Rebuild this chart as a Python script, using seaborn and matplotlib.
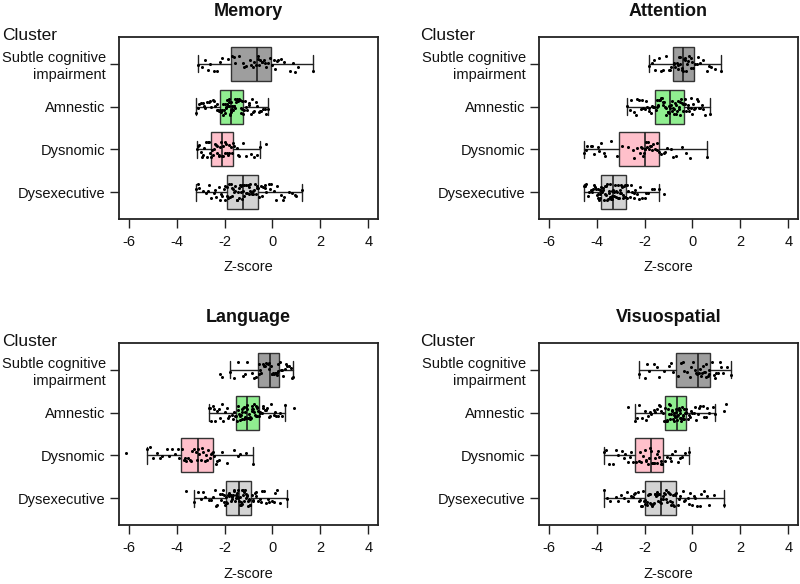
import matplotlib
matplotlib.use("Agg")
import matplotlib.pyplot as plt
import numpy as np
import pandas as pd
import seaborn as sns

# Clusters (top to bottom) and box colours
clusters = ["Subtle cognitive\nimpairment", "Amnestic", "Dysnomic", "Dysexecutive"]
box_colors = ["#9e9e9e", "#90ee90", "#ffc0cb", "#d3d3d3"]
domains = ["Memory", "Attention", "Language", "Visuospatial"]

# Box summaries: [whisker low, Q1, median, Q3, whisker high]
memory_box = [[-3.09, -1.73, -0.65, -0.06, 1.68],
              [-3.19, -2.19, -1.72, -1.23, -0.17],
              [-3.16, -2.55, -2.09, -1.63, -0.53],
              [-3.20, -1.88, -1.24, -0.60, 1.22]]
attention_box = [[-1.82, -0.81, -0.39, 0.06, 1.21],
                 [-2.73, -1.57, -0.94, -0.37, 0.75],
                 [-4.54, -3.05, -1.96, -1.38, 0.59],
                 [-4.54, -3.80, -3.33, -2.78, -1.38]]
language_box = [[-1.77, -0.62, -0.10, 0.27, 0.87],
                [-2.65, -1.52, -1.05, -0.58, 0.52],
                [-5.22, -3.83, -3.09, -2.47, -0.80],
                [-3.26, -1.92, -1.38, -0.90, 0.62]]
visuo_box = [[-2.21, -0.67, 0.24, 0.75, 1.62],
             [-2.41, -1.13, -0.64, -0.25, 0.94],
             [-3.67, -2.41, -1.72, -1.22, -0.14],
             [-3.67, -1.99, -1.33, -0.67, 1.31]]

# Individual z-scores (estimated from the dots)
memory_pts = [
    [-3.09, -2.95, -2.8, -2.6, -2.45, -2.3, -2.1, -1.85, -1.7, -1.55, -1.4, -1.25, -1.1, -0.95, -0.8, -0.7,
     -0.62, -0.55, -0.5, -0.42, -0.35, -0.28, -0.2, -0.1, 0.0, 0.1, 0.2, 0.35, 0.5, 0.75, 0.95, 1.05, 1.68,
     -2.7, -2.2, -1.6, -1.2, -0.9, -0.75, -0.6, -0.45, -0.3, 0.05, 0.25, 0.85],
    [-3.19, -3.1, -3.0, -2.9, -2.85, -2.75, -2.65, -2.55, -2.5, -2.4, -2.32, -2.27, -2.22,
     -2.17, -2.12, -2.08, -2.03, -1.98, -1.95, -1.9, -1.86, -1.83, -1.8, -1.77, -1.75, -1.73,
     -1.7, -1.66, -1.62, -1.58, -1.55, -1.5, -1.46, -1.42, -1.38, -1.35, -1.31, -1.28, -1.25,
     -1.2, -1.12, -1.05, -0.98, -0.9, -0.82, -0.75, -0.66, -0.58, -0.48, -0.38, -0.27, -0.17,
     -3.05, -2.8, -2.6, -2.45, -2.3, -2.15, -2.05, -1.97, -1.92, -1.88, -1.82, -1.78, -1.72,
     -1.68, -1.6, -1.52, -1.48, -1.4, -1.33, -1.27, -1.15, -1.0, -0.85, -0.7, -0.5, -0.3],
    [-3.16, -3.1, -3.0, -2.92, -2.85, -2.78, -2.7, -2.64, -2.58, -2.52, -2.46, -2.4, -2.35, -2.3, -2.25,
     -2.2, -2.15, -2.11, -2.06, -2.0, -1.95, -1.9, -1.85, -1.8, -1.75, -1.7, -1.66,
     -1.6, -1.5, -1.4, -1.25, -1.1, -0.9, -0.75, -0.53, -0.25,
     -3.05, -2.88, -2.75, -2.6, -2.45, -2.32, -2.22, -2.08, -1.97, -1.82, -1.45, -0.65],
    [-3.2, -3.05, -2.9, -2.78, -2.65, -2.55, -2.45, -2.35, -2.25, -2.17, -2.1, -2.02, -1.96, -1.91,
     -1.85, -1.8, -1.75, -1.7, -1.65, -1.6, -1.55, -1.5, -1.45, -1.41, -1.37, -1.33, -1.29, -1.26,
     -1.21, -1.17, -1.12, -1.08, -1.03, -0.99, -0.95, -0.9, -0.85, -0.8, -0.75, -0.7, -0.66, -0.62,
     -0.55, -0.48, -0.4, -0.32, -0.25, -0.15, -0.05, 0.05, 0.2, 0.35, 0.5, 0.8, 0.95, 1.22,
     -3.1, -2.7, -2.4, -2.15, -1.98, -1.9, -1.78, -1.68, -1.58, -1.48, -1.39, -1.3, -1.2,
     -1.1, -1.0, -0.92, -0.82, -0.72, -0.63, -0.45, -0.3, -0.1, 0.15, 0.45, 0.7, 1.0],
]
attention_pts = [
    [-1.82, -1.7, -1.55, -1.4, -1.25, -1.1, -0.98, -0.88, -0.78, -0.72, -0.66, -0.6, -0.55, -0.5, -0.45, -0.41,
     -0.36, -0.3, -0.25, -0.2, -0.14, -0.08, -0.02, 0.03, 0.1, 0.2, 0.32, 0.45, 0.6, 0.78, 0.95, 1.21,
     -1.6, -1.3, -0.95, -0.75, -0.62, -0.52, -0.43, -0.33, -0.22, -0.05, 0.25, 0.7],
    [-2.73, -2.6, -2.45, -2.35, -2.25, -2.15, -2.05, -1.98, -1.9, -1.82, -1.75, -1.68, -1.61,
     -1.54, -1.49, -1.44, -1.39, -1.34, -1.29, -1.24, -1.19, -1.14, -1.09, -1.04, -1.0, -0.96,
     -0.91, -0.87, -0.83, -0.78, -0.74, -0.7, -0.65, -0.61, -0.56, -0.52, -0.47, -0.43, -0.39,
     -0.33, -0.27, -0.2, -0.14, -0.08, -0.02, 0.04, 0.1, 0.18, 0.27, 0.38, 0.52, 0.75,
     -2.55, -2.3, -2.1, -1.95, -1.8, -1.65, -1.5, -1.42, -1.32, -1.22, -1.12, -1.02, -0.92,
     -0.85, -0.76, -0.68, -0.58, -0.5, -0.41, -0.3, -0.17, -0.05, 0.07, 0.22, 0.33, 0.45],
    [-4.54, -4.4, -4.25, -4.1, -3.95, -3.8, -3.65, -3.4, -3.15, -2.95, -2.7, -2.45, -2.3, -2.2, -2.12,
     -2.06, -2.02, -1.98, -1.93, -1.88, -1.82, -1.76, -1.7, -1.63, -1.55, -1.48, -1.41,
     -1.32, -1.2, -1.05, -0.9, -0.7, -0.45, -0.25, -0.1, 0.59,
     -4.45, -4.2, -3.9, -3.7, -2.5, -2.15, -2.0, -1.85, -1.72, -1.5, -1.15, -0.8],
    [-4.54, -4.45, -4.35, -4.25, -4.18, -4.12, -4.06, -4.0, -3.96, -3.92, -3.89, -3.86, -3.84, -3.82,
     -3.78, -3.74, -3.7, -3.66, -3.62, -3.59, -3.55, -3.52, -3.48, -3.45, -3.42, -3.39, -3.37, -3.35,
     -3.3, -3.26, -3.22, -3.18, -3.14, -3.1, -3.06, -3.02, -2.98, -2.94, -2.9, -2.86, -2.83, -2.8,
     -2.75, -2.68, -2.6, -2.52, -2.45, -2.38, -2.3, -2.2, -2.1, -2.0, -1.85, -1.7, -1.38, -1.18,
     -4.5, -4.3, -4.15, -4.03, -3.94, -3.87, -3.8, -3.72, -3.64, -3.57, -3.5, -3.43, -3.36,
     -3.28, -3.2, -3.12, -3.04, -2.96, -2.88, -2.81, -2.72, -2.56, -2.42, -2.25, -1.95, -1.6],
]
language_pts = [
    [-2.19, -2.1, -1.77, -1.45, -1.25, -1.05, -0.85, -0.7, -0.58, -0.52, -0.46, -0.4, -0.33, -0.26, -0.19, -0.13,
     -0.07, -0.02, 0.03, 0.08, 0.13, 0.17, 0.21, 0.25, 0.3, 0.38, 0.45, 0.52, 0.6, 0.68, 0.78, 0.87,
     -1.6, -1.15, -0.75, -0.55, -0.36, -0.16, 0.0, 0.1, 0.19, 0.34, 0.56, 0.8],
    [-2.65, -2.58, -2.5, -2.4, -2.3, -2.2, -2.1, -2.0, -1.9, -1.8, -1.7, -1.62, -1.55,
     -1.49, -1.45, -1.41, -1.37, -1.33, -1.29, -1.26, -1.22, -1.18, -1.15, -1.12, -1.09, -1.06,
     -1.02, -0.98, -0.95, -0.91, -0.87, -0.84, -0.8, -0.76, -0.72, -0.69, -0.66, -0.63, -0.6,
     -0.55, -0.5, -0.44, -0.38, -0.3, -0.22, -0.14, -0.05, 0.05, 0.15, 0.3, 0.52, 0.9,
     -2.62, -2.45, -2.25, -2.05, -1.85, -1.66, -1.52, -1.43, -1.35, -1.27, -1.2, -1.13, -1.07,
     -1.0, -0.93, -0.86, -0.78, -0.7, -0.64, -0.52, -0.41, -0.26, -0.1, 0.1, 0.25, 0.4],
    [-6.11, -5.22, -5.0, -4.8, -4.6, -4.4, -4.2, -4.05, -3.9, -3.78, -3.7, -3.6, -3.52, -3.44, -3.35,
     -3.27, -3.19, -3.12, -3.05, -2.98, -2.9, -2.83, -2.76, -2.69, -2.62, -2.56, -2.5,
     -2.42, -2.35, -2.25, -2.1, -1.9, -1.6, -1.35, -1.1, -0.8,
     -5.1, -4.7, -4.3, -3.95, -3.65, -3.4, -3.15, -2.94, -2.72, -2.52, -2.3, -1.45],
    [-3.61, -3.26, -3.0, -2.8, -2.65, -2.5, -2.4, -2.3, -2.2, -2.12, -2.06, -2.01, -1.97, -1.94,
     -1.89, -1.85, -1.81, -1.77, -1.73, -1.69, -1.65, -1.61, -1.57, -1.53, -1.49, -1.46, -1.43, -1.4,
     -1.36, -1.33, -1.29, -1.26, -1.22, -1.19, -1.15, -1.12, -1.08, -1.05, -1.01, -0.98, -0.95, -0.92,
     -0.86, -0.8, -0.74, -0.67, -0.6, -0.52, -0.44, -0.35, -0.25, -0.15, -0.02, 0.12, 0.3, 0.62,
     -3.1, -2.9, -2.55, -2.35, -2.15, -2.03, -1.92, -1.83, -1.75, -1.67, -1.59, -1.51, -1.44,
     -1.37, -1.3, -1.24, -1.17, -1.1, -1.03, -0.96, -0.83, -0.7, -0.48, -0.2, 0.05, 0.2],
]
visuo_pts = [
    [-2.21, -2.0, -1.8, -1.6, -1.4, -1.2, -1.0, -0.8, -0.6, -0.48, -0.35, -0.22, -0.1, 0.02, 0.12, 0.2,
     0.28, 0.34, 0.4, 0.46, 0.52, 0.58, 0.64, 0.7, 0.8, 0.88, 0.96, 1.05, 1.15, 1.28, 1.42, 1.62,
     -1.9, -1.5, -0.9, -0.4, -0.05, 0.15, 0.3, 0.43, 0.55, 0.67, 0.92, 1.2],
    [-2.69, -2.41, -2.25, -2.1, -1.95, -1.85, -1.72, -1.6, -1.5, -1.4, -1.3, -1.22, -1.16,
     -1.1, -1.06, -1.02, -0.98, -0.94, -0.9, -0.86, -0.82, -0.79, -0.76, -0.72, -0.69, -0.66,
     -0.62, -0.59, -0.56, -0.53, -0.5, -0.47, -0.44, -0.41, -0.38, -0.35, -0.32, -0.29, -0.27,
     -0.2, -0.12, -0.04, 0.05, 0.14, 0.23, 0.32, 0.42, 0.55, 0.7, 0.94, 1.31, 1.4,
     -2.3, -2.0, -1.78, -1.55, -1.35, -1.2, -1.08, -1.0, -0.92, -0.84, -0.77, -0.7, -0.64,
     -0.58, -0.52, -0.46, -0.4, -0.34, -0.28, -0.16, -0.08, 0.1, 0.28, 0.48, 0.62, 0.85],
    [-3.67, -3.5, -3.3, -3.1, -2.95, -2.8, -2.7, -2.6, -2.48, -2.35, -2.25, -2.15, -2.05, -1.98, -1.92,
     -1.86, -1.8, -1.75, -1.69, -1.65, -1.6, -1.55, -1.5, -1.45, -1.38, -1.32, -1.26,
     -1.15, -1.05, -0.95, -0.85, -0.72, -0.6, -0.45, -0.3, -0.14,
     -3.6, -3.2, -2.85, -2.55, -2.2, -1.95, -1.78, -1.62, -1.48, -1.3, -0.9, -0.5],
    [-3.67, -3.45, -3.2, -3.0, -2.85, -2.7, -2.58, -2.48, -2.38, -2.28, -2.2, -2.13, -2.07, -2.02,
     -1.96, -1.91, -1.86, -1.81, -1.76, -1.71, -1.66, -1.61, -1.56, -1.51, -1.47, -1.43, -1.39, -1.35,
     -1.3, -1.25, -1.2, -1.15, -1.1, -1.05, -1.0, -0.95, -0.9, -0.85, -0.8, -0.76, -0.72, -0.69,
     -0.6, -0.5, -0.4, -0.3, -0.2, -0.1, 0.0, 0.1, 0.2, 0.35, 0.5, 0.7, 0.9, 1.31,
     -3.55, -3.1, -2.75, -2.45, -2.24, -2.1, -1.98, -1.88, -1.78, -1.68, -1.58, -1.49, -1.41,
     -1.32, -1.22, -1.12, -1.02, -0.92, -0.83, -0.74, -0.55, -0.35, -0.15, 0.05, 0.3, 0.6],
]

all_box = [memory_box, attention_box, language_box, visuo_box]
all_pts = [memory_pts, attention_pts, language_pts, visuo_pts]

sns.set_theme(style="ticks")
plt.rcParams["font.family"] = ["Liberation Sans", "DejaVu Sans"]
np.random.seed(3)

fig = plt.figure(figsize=(8, 5.84), dpi=100)
W, H = 800, 584
# axes frames in pixels: left, top
frames = [(119, 37), (539, 37), (119, 343), (539, 343)]
aw, ah = 259, 182

for i, dom in enumerate(domains):
    left, top = frames[i]
    ax = fig.add_axes([left / W, 1 - (top + ah) / H, aw / W, ah / H])

    rows = []
    for c, vals in zip(clusters, all_pts[i]):
        for v in vals:
            rows.append({"cluster": c, "z": v})
    df = pd.DataFrame(rows)

    stats = []
    for c, b in zip(clusters, all_box[i]):
        stats.append({"label": c, "whislo": b[0], "q1": b[1], "med": b[2],
                      "q3": b[3], "whishi": b[4], "fliers": []})
    bp = ax.bxp(stats, positions=range(4), widths=0.8, orientation="horizontal",
                patch_artist=True, showfliers=False, manage_ticks=False,
                boxprops=dict(edgecolor="#333333", linewidth=1.0),
                medianprops=dict(color="#222222", linewidth=1.2),
                whiskerprops=dict(color="#222222", linewidth=1.0),
                capprops=dict(color="#222222", linewidth=1.0),
                capwidths=0.4, zorder=2)
    for patch, col in zip(bp["boxes"], box_colors):
        patch.set_facecolor(col)

    sns.stripplot(data=df, x="z", y="cluster", order=clusters, color="black",
                  size=2.2, jitter=0.2, linewidth=0, ax=ax, zorder=3)

    ax.set_xlim(-6.4, 4.4)
    ax.set_ylim(3.63, -0.63)
    ax.set_xticks([-6, -4, -2, 0, 2, 4])
    ax.set_xticklabels(["-6", "-4", "-2", "0", "2", "4"])
    ax.set_yticks(range(4))
    ax.set_yticklabels(clusters, ha="right", linespacing=1.2)
    ax.tick_params(axis="both", direction="out", length=6.5, width=1.0,
                   color="#222222", labelsize=10.5, labelcolor="#111111")
    ax.tick_params(axis="x", pad=5)
    ax.tick_params(axis="y", pad=3)
    for s in ax.spines.values():
        s.set_visible(True)
        s.set_linewidth(1.3)
        s.set_color("#222222")
    ax.set_xlabel("")
    ax.set_ylabel("")

    cx = (left + aw / 2) / W
    title_y = 12 if top < 100 else 318
    fig.text(cx, 1 - title_y / H, dom, ha="center", va="center",
             fontsize=13, fontweight="bold", color="#111111")
    zy = 267 if top < 100 else 574
    fig.text(cx, 1 - zy / H, "Z-score", ha="center", va="center",
             fontsize=10.5, color="#111111")
    clx = 2 if left < 300 else 420
    cly = 36 if top < 100 else 342
    fig.text(clx / W, 1 - cly / H, "Cluster", ha="left", va="center",
             fontsize=12.5, color="#111111")

fig.savefig("out.png", dpi=100)
